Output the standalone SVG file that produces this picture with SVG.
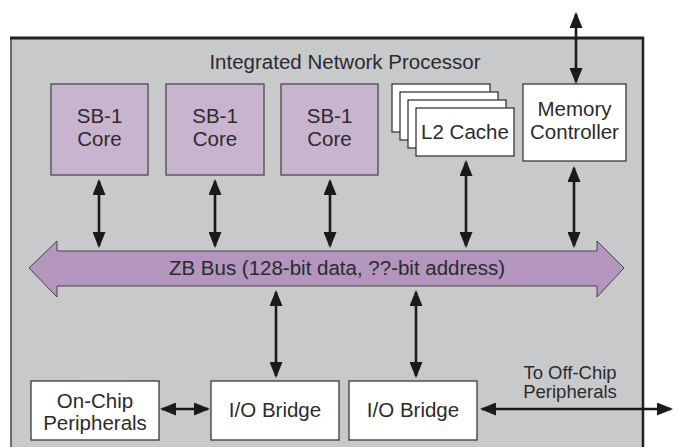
<svg xmlns="http://www.w3.org/2000/svg" width="678" height="447" viewBox="0 0 678 447">
  <defs>
    <style>
      .txt { font-family: "Liberation Sans", Arial, sans-serif; font-size: 20.5px; fill: #2b2b2b; text-anchor: middle; }
      .small { font-size: 18.5px; }
      .core { fill: #c8b4cf; stroke: #4a4a4a; stroke-width: 1.3; }
      .box { fill: #ffffff; stroke: #3a3a3a; stroke-width: 1.3; }
      .conn { stroke: #1a1a1a; stroke-width: 2.6; fill: none; marker-start: url(#ah); marker-end: url(#ah); }
    </style>
    <marker id="ah" viewBox="0 0 16 13" markerWidth="16" markerHeight="13" refX="14" refY="6.5" orient="auto-start-reverse" markerUnits="userSpaceOnUse">
      <path d="M0,0 L16,6.5 L0,13 z" fill="#1a1a1a"/>
    </marker>
  </defs>

  <rect width="678" height="447" fill="#ffffff"/>

  <g id="processor">
    <rect x="11" y="38" width="632" height="420" fill="#c8c9cb" stroke="#444" stroke-width="1.5"/>
    <line x1="10" y1="38" x2="644" y2="38" stroke="#222" stroke-width="3"/>
    <line x1="643" y1="37" x2="643" y2="447" stroke="#222" stroke-width="2.5"/>
    <text class="txt" x="345" y="69">Integrated Network Processor</text>
  </g>

  <g id="core1">
    <rect class="core" x="51" y="84" width="97" height="91"/>
    <text class="txt" x="99.5" y="123">SB-1</text>
    <text class="txt" x="99.5" y="146">Core</text>
  </g>
  <g id="core2">
    <rect class="core" x="166" y="84" width="98" height="91"/>
    <text class="txt" x="215" y="123">SB-1</text>
    <text class="txt" x="215" y="146">Core</text>
  </g>
  <g id="core3">
    <rect class="core" x="281" y="84" width="97" height="91"/>
    <text class="txt" x="329.5" y="123">SB-1</text>
    <text class="txt" x="329.5" y="146">Core</text>
  </g>

  <g id="l2cache">
    <rect class="box" x="392" y="84" width="98" height="48"/>
    <rect class="box" x="400" y="92" width="98" height="48"/>
    <rect class="box" x="408" y="100" width="98" height="48"/>
    <rect class="box" x="416" y="108" width="98" height="48"/>
    <text class="txt" x="465" y="139">L2 Cache</text>
  </g>

  <g id="memctrl">
    <rect class="box" x="523" y="84" width="103" height="77"/>
    <text class="txt" x="574.5" y="116">Memory</text>
    <text class="txt" x="574.5" y="139">Controller</text>
  </g>

  <g id="zbbus">
    <polygon points="29,268 57,241 57,251 597,251 597,241 624,268 597,297 597,286 57,286 57,297" fill="#b395bd" stroke="#444" stroke-width="1"/>
    <text class="txt" x="337" y="275">ZB Bus (128-bit data, ??-bit address)</text>
  </g>

  <g id="onchip">
    <rect class="box" x="31" y="381" width="128" height="59"/>
    <text class="txt" x="95" y="408">On-Chip</text>
    <text class="txt" x="95" y="430">Peripherals</text>
  </g>
  <g id="iobridge1">
    <rect class="box" x="211" y="381" width="128" height="59"/>
    <text class="txt" x="275" y="417">I/O Bridge</text>
  </g>
  <g id="iobridge2">
    <rect class="box" x="349" y="381" width="128" height="59"/>
    <text class="txt" x="413" y="417">I/O Bridge</text>
  </g>

  <g id="offchip-label">
    <text class="txt small" x="570" y="379">To Off-Chip</text>
    <text class="txt small" x="570" y="398">Peripherals</text>
  </g>

  <g id="connectors">
    <line class="conn" x1="99" y1="181" x2="99" y2="246"/>
    <line class="conn" x1="215" y1="181" x2="215" y2="246"/>
    <line class="conn" x1="330" y1="181" x2="330" y2="246"/>
    <line class="conn" x1="466" y1="162" x2="466" y2="246"/>
    <line class="conn" x1="574" y1="168" x2="574" y2="246"/>
    <line class="conn" x1="576" y1="14" x2="576" y2="82"/>
    <line class="conn" x1="276" y1="292" x2="276" y2="376"/>
    <line class="conn" x1="416" y1="292" x2="416" y2="376"/>
    <line class="conn" x1="162" y1="409" x2="208" y2="409"/>
    <line class="conn" x1="482" y1="409" x2="671" y2="409"/>
  </g>
</svg>
